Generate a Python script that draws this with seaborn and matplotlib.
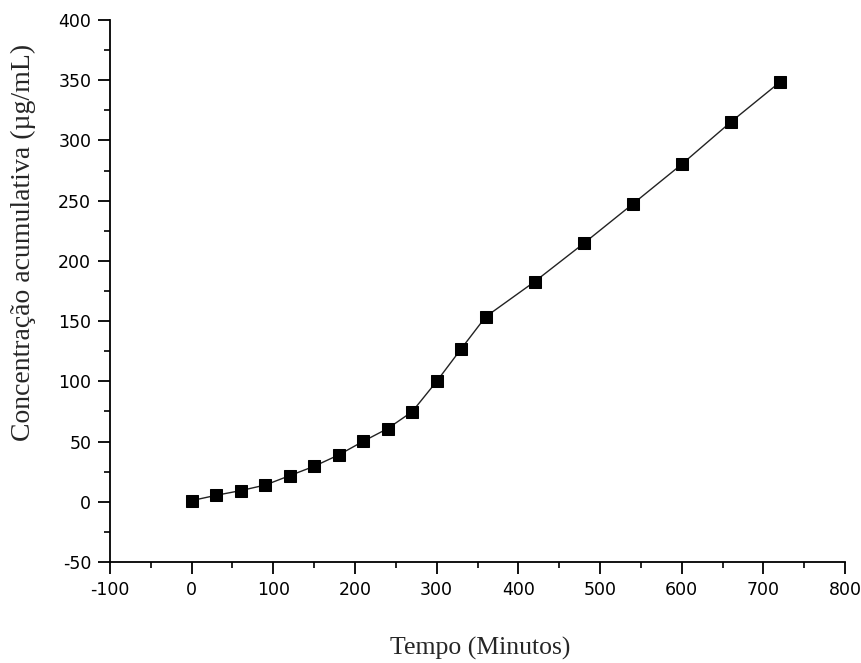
import numpy as np
import pandas as pd
import matplotlib
matplotlib.use("Agg")
import matplotlib.pyplot as plt
import seaborn as sns
from matplotlib.ticker import MultipleLocator

# Tempo (min) and cumulative concentration (ug/mL)
tempo = [0, 30, 60, 90, 120, 150, 180, 210, 240, 270, 300, 330, 360,
         420, 480, 540, 600, 660, 720]
concentracao = [1.0, 5.4, 9.3, 13.9, 21.7, 29.5, 38.9, 50.2, 60.8, 74.8,
                100.0, 127.0, 153.6, 182.8, 214.5, 247.2, 280.2, 315.2, 348.3]

df = pd.DataFrame({"tempo": tempo, "conc": concentracao})

sns.set_theme(style="ticks")
plt.rcParams["font.family"] = ["DejaVu Sans"]
plt.rcParams["axes.unicode_minus"] = False

fig = plt.figure(figsize=(8.62, 6.63), dpi=100)
ax = fig.add_axes([0.1276, 0.1523, 0.8527, 0.8175])

sns.lineplot(data=df, x="tempo", y="conc", ax=ax, color="#222222",
             linewidth=1.0, marker="s", markersize=8.5,
             markerfacecolor="black", markeredgecolor="black")

ax.set_xlim(-100, 800)
ax.set_ylim(-50, 400)
ax.xaxis.set_major_locator(MultipleLocator(100))
ax.xaxis.set_minor_locator(MultipleLocator(50))
ax.yaxis.set_major_locator(MultipleLocator(50))
ax.yaxis.set_minor_locator(MultipleLocator(25))

for s in ["top", "right"]:
    ax.spines[s].set_visible(False)
for s in ["left", "bottom"]:
    ax.spines[s].set_linewidth(1.3)
    ax.spines[s].set_color("black")

ax.tick_params(which="major", direction="out", length=8.5, width=1.3,
               labelsize=12.5, colors="black", pad=5)
ax.tick_params(which="minor", direction="out", length=4.3, width=1.2,
               colors="black")

serif = ["Liberation Serif", "DejaVu Serif"]
ax.set_xlabel("Tempo (Minutos)", family=serif, fontsize=18.5)
ax.set_ylabel("Concentração acumulativa (µg/mL)", family=serif,
              fontsize=20)
ax.xaxis.set_label_coords(0.503, -0.138)
ax.yaxis.set_label_coords(-0.100, 0.589)

fig.savefig("out.png", dpi=100)
